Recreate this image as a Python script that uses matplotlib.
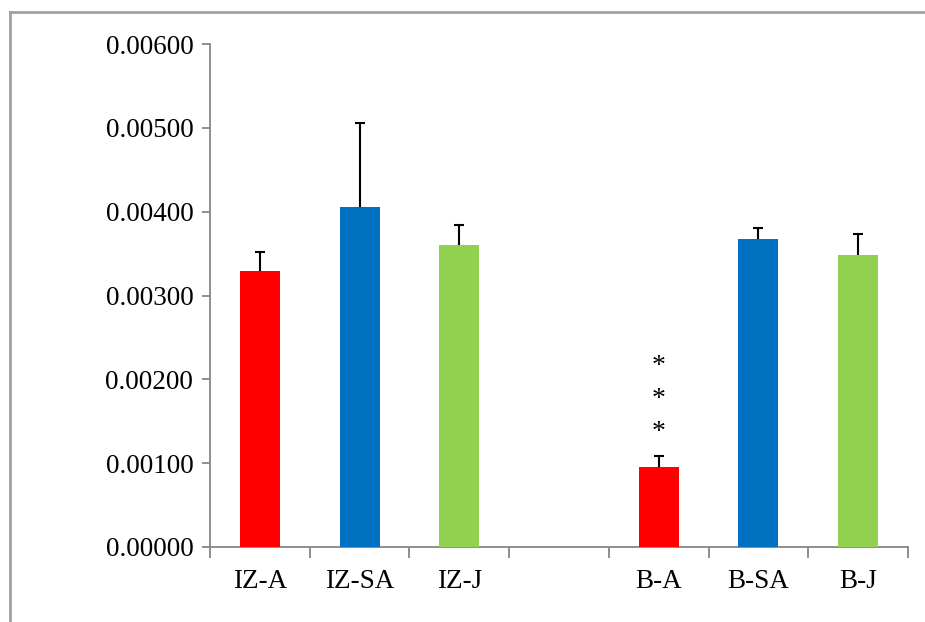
import matplotlib
matplotlib.use("Agg")
import matplotlib.pyplot as plt
from matplotlib.lines import Line2D

categories = ["IZ-A", "IZ-SA", "IZ-J", "", "B-A", "B-SA", "B-J"]
values = [0.00329, 0.00405, 0.00360, None, 0.00095, 0.00367, 0.00348]
errors = [0.00023, 0.00101, 0.00024, None, 0.00013, 0.00013, 0.00025]
colors = ["#FF0000", "#0070C0", "#92D050", None, "#FF0000", "#0070C0", "#92D050"]
yticks = [0.0, 0.001, 0.002, 0.003, 0.004, 0.005, 0.006]
star_levels = [0.00137, 0.00176, 0.00215]
star_index = 4

plt.rcParams["font.family"] = ["Liberation Serif", "DejaVu Serif"]

fig = plt.figure(figsize=(9.25, 6.22), dpi=100)
ax = fig.add_axes([210/925, 1-547/622, (908-210)/925, (547-44)/622])

for i, (v, e, c) in enumerate(zip(values, errors, colors)):
    if v is None:
        continue
    ax.bar(i, v, width=0.4, color=c, zorder=3)
    ax.errorbar(i, v, yerr=e, fmt="none", ecolor="black",
                elinewidth=1.5, capsize=3.5, capthick=1.5, zorder=2)

for s in star_levels:
    ax.text(star_index, s, "*", ha="center", va="center", fontsize=20)

ax.set_xlim(-0.5, len(categories) - 0.5)
ax.set_ylim(0, 0.006)
ax.set_yticks(yticks)
ax.set_yticklabels([f"{t:.5f}" for t in yticks], fontsize=19.5)
ax.set_xticks(range(len(categories)))
ax.set_xticklabels(categories, fontsize=19.5)
ax.set_xticks([i - 0.5 for i in range(len(categories) + 1)], minor=True)

gray = "#868686"
for side in ["top", "right"]:
    ax.spines[side].set_visible(False)
for side in ["left", "bottom"]:
    ax.spines[side].set_color(gray)
    ax.spines[side].set_linewidth(1.3)

ax.tick_params(axis="x", which="major", length=0, pad=16)
ax.tick_params(axis="x", which="minor", length=8, width=1.3, color=gray, direction="out")
ax.tick_params(axis="y", length=6, width=1.3, color=gray, pad=6)

# outer frame (left and top visible)
fig.add_artist(Line2D([10/925, 10/925], [0, 1-12/622], transform=fig.transFigure, color="#A0A0A0", lw=2))
fig.add_artist(Line2D([10/925, 1], [1-12/622, 1-12/622], transform=fig.transFigure, color="#A0A0A0", lw=2))

fig.savefig("out.png", dpi=100)
